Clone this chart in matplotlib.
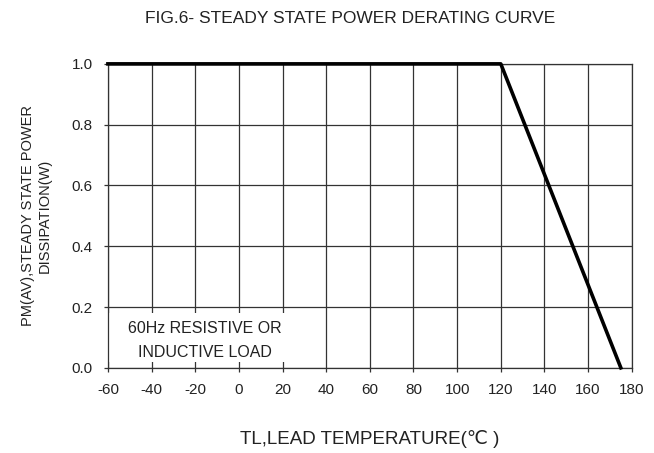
import matplotlib
matplotlib.use("Agg")
import matplotlib.pyplot as plt
from matplotlib.patches import Rectangle

plt.rcParams['font.family'] = ['Liberation Sans', 'DejaVu Sans']
plt.rcParams['axes.unicode_minus'] = False

# derating curve
temp = [-60, 120, 175]
power = [1.0, 1.0, 0.0]

x_ticks = [-60, -40, -20, 0, 20, 40, 60, 80, 100, 120, 140, 160, 180]
y_ticks = [0.0, 0.2, 0.4, 0.6, 0.8, 1.0]

fig = plt.figure(figsize=(6.54, 4.53), dpi=100)
ax = fig.add_axes([0.165, 0.188, 0.801, 0.671])

ax.set_xlim(-60, 180)
ax.set_ylim(0, 1.0)
ax.set_xticks(x_ticks)
ax.set_yticks(y_ticks)
ax.set_yticklabels(["{:.1f}".format(v) for v in y_ticks])
ax.grid(True, color="#333333", linewidth=0.9)
ax.set_axisbelow(True)
for s in ax.spines.values():
    s.set_color("#333333")
    s.set_linewidth(0.9)
ax.tick_params(length=3, width=0.9, color="#333333", labelsize=11, labelcolor="#222222", pad=8)

# white area behind the note
ax.add_patch(Rectangle((-59.6, 0.02), 88, 0.16, facecolor="white", edgecolor="none", zorder=1.5))
ax.text(-15.5, 0.13, "60Hz RESISTIVE OR", ha="center", va="center", fontsize=11.5, color="#222222", zorder=3)
ax.text(-15.5, 0.05, "INDUCTIVE LOAD", ha="center", va="center", fontsize=11.5, color="#222222", zorder=3)

ax.plot(temp, power, color="black", linewidth=2.6, zorder=4, clip_on=False)

fig.text(0.535, 0.96, "FIG.6- STEADY STATE POWER DERATING CURVE", ha="center", va="center",
         fontsize=12.5, color="#222222")
ax.set_xlabel("TL,LEAD TEMPERATURE(\u2103 )", fontsize=13.5, color="#222222", labelpad=24)
ax.set_ylabel("PM(AV),STEADY STATE POWER\nDISSIPATION(W)", fontsize=10.5, color="#222222",
              labelpad=14, linespacing=1.3)

fig.savefig("out.png", dpi=100)
